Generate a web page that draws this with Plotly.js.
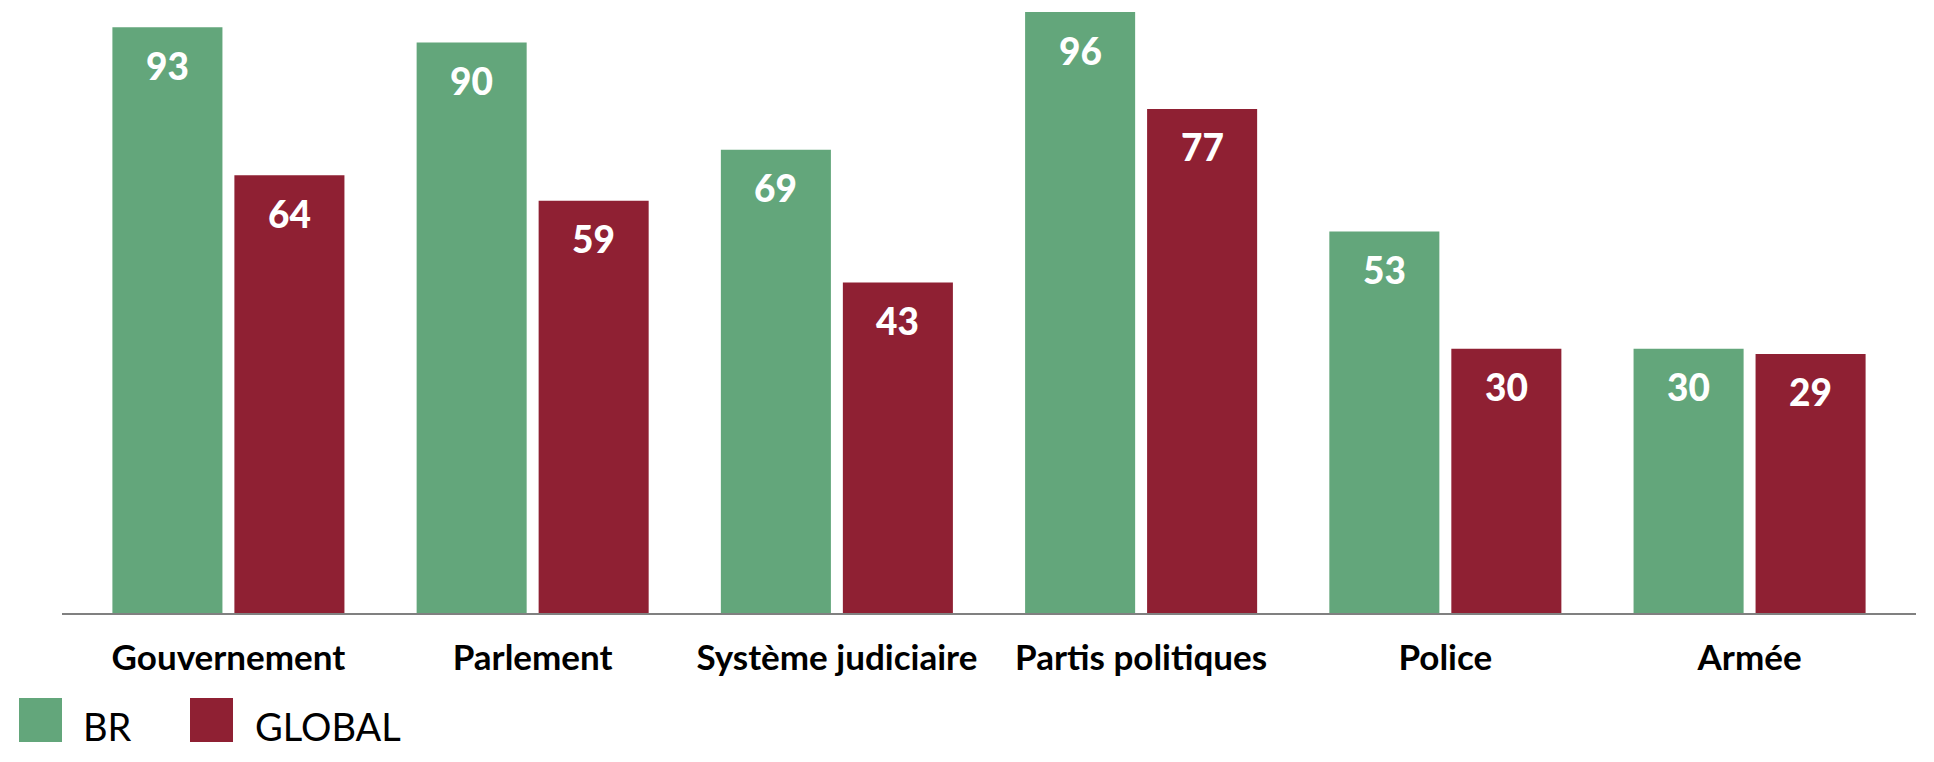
<!DOCTYPE html>
<html>
<head>
<meta charset="utf-8">
<script src="https://cdn.plot.ly/plotly-3.0.1.min.js"></script>
<style>html,body{margin:0;padding:0;background:#fff;}#chart{width:1934px;height:762px;}</style>
</head>
<body>
<div id="chart"></div>
<script>
// ---- data ----
var categories = ["Gouvernement", "Parlement", "Système judiciaire", "Partis politiques", "Police", "Armée"];
var seriesNames = ["BR", "GLOBAL"];
var brValues = [93, 90, 69, 96, 53, 30];
var globalValues = [64, 59, 43, 77, 30, 29];

// ---- styling / layout constants ----
var colors = ["#63a67b", "#8f2033"];
var W = 1934, H = 762;
var L = 62, R = 18, T = 12, B = 149;       // plot margins (px)
var axisMin = -21.75, axisMax = 96;         // truncated value axis as in the reference
var plotW = W - L - R, plotH = H - T - B;
function px2paperX(px) { return (px - L) / plotW; }
function px2paperY(py) { return (H - B - py) / plotH; }

function barTrace(name, vals, color) {
  return {
    type: "bar",
    name: name,
    x: categories,
    base: axisMin,
    y: vals.map(function (v) { return v - axisMin; }),
    customdata: vals,
    hovertemplate: "%{x}: %{customdata}<extra>" + name + "</extra>",
    marker: { color: color, line: { width: 0 } },
    showlegend: false
  };
}

var traces = [
  barTrace(seriesNames[0], brValues, colors[0]),
  barTrace(seriesNames[1], globalValues, colors[1])
];

// value labels inside bars
var annotations = [];
var slotShift = 61;
[brValues, globalValues].forEach(function (vals, si) {
  vals.forEach(function (v, i) {
    annotations.push({
      x: categories[i], y: v, xref: "x", yref: "y",
      xshift: si === 0 ? -slotShift : slotShift,
      yshift: -38, yanchor: "middle", xanchor: "center",
      text: String(v), showarrow: false,
      font: { family: "Lato", size: 37, color: "#ffffff", weight: 900 }
    });
  });
});

// custom legend (large squares)
var shapes = [];
var legendItems = [
  { sq: [19, 62], tx: 81 },
  { sq: [190, 233], tx: 253 }
];
legendItems.forEach(function (it, i) {
  shapes.push({
    type: "rect", xref: "paper", yref: "paper",
    x0: px2paperX(it.sq[0]), x1: px2paperX(it.sq[1]),
    y0: px2paperY(742), y1: px2paperY(698),
    fillcolor: colors[i], line: { width: 0 }
  });
  annotations.push({
    xref: "paper", yref: "paper",
    x: px2paperX(it.tx), y: px2paperY(726),
    xanchor: "left", yanchor: "middle",
    text: seriesNames[i], showarrow: false,
    font: { family: "Lato", size: 38, color: "#000000" }
  });
});

var layout = {
  width: W, height: H,
  margin: { l: L, r: R, t: T, b: B, pad: 0 },
  paper_bgcolor: "#ffffff", plot_bgcolor: "#ffffff",
  barmode: "group", bargap: 0.198, bargroupgap: 0.098,
  showlegend: false,
  xaxis: {
    type: "category",
    range: [-0.547, 5.547],
    showline: true, linecolor: "#808080", linewidth: 2,
    ticks: "", showgrid: false, zeroline: false,
    ticklabelstandoff: 13,
    tickfont: { family: "Lato", size: 35, color: "#000000", weight: 700 },
    fixedrange: true
  },
  yaxis: {
    range: [axisMin, axisMax],
    showgrid: false, zeroline: false, showline: false,
    showticklabels: false, ticks: "", fixedrange: true
  },
  annotations: annotations,
  shapes: shapes
};

Plotly.newPlot("chart", traces, layout, { displayModeBar: false, staticPlot: true });
</script>
</body>
</html>
